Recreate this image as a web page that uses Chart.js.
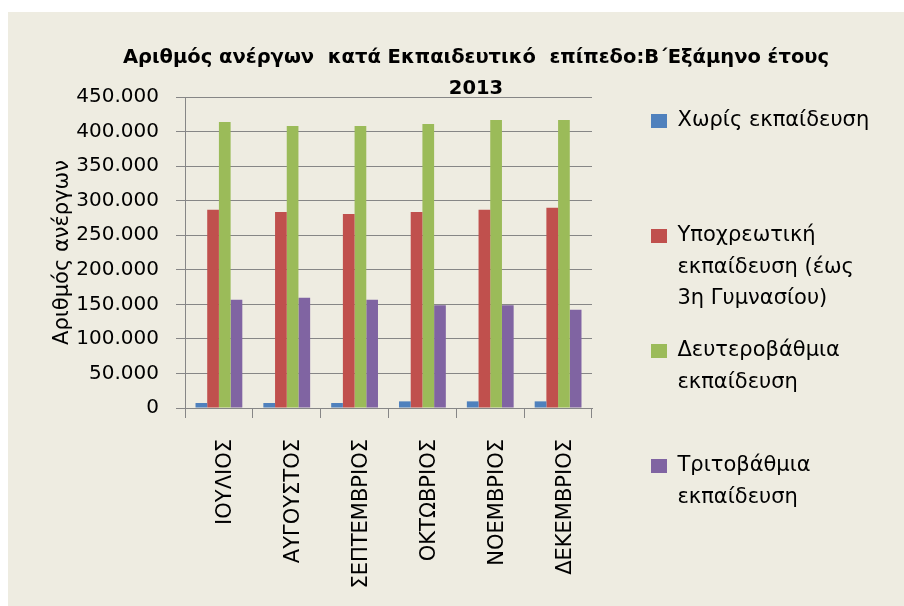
<!DOCTYPE html>
<html><head><meta charset="utf-8">
<script src="https://cdn.jsdelivr.net/npm/chart.js@4.4.1/dist/chart.umd.min.js"></script>
<style>
html,body{margin:0;padding:0;background:#fff;width:904px;height:606px;overflow:hidden}
#c{position:absolute;left:8px;top:12px;background:#EEECE1}
</style></head><body>
<canvas id="c" width="896" height="594"></canvas>
<script>
// ---- data ----
const categories = ['ΙΟΥΛΙΟΣ', 'ΑΥΓΟΥΣΤΟΣ', 'ΣΕΠΤΕΜΒΡΙΟΣ', 'ΟΚΤΩΒΡΙΟΣ', 'ΝΟΕΜΒΡΙΟΣ', 'ΔΕΚΕΜΒΡΙΟΣ'];
const seriesNames = ['Χωρίς εκπαίδευση', 'Υποχρεωτική εκπαίδευση (έως 3η Γυμνασίου)', 'Δευτεροβάθμια εκπαίδευση', 'Τριτοβάθμια εκπαίδευση'];
const legendLines = [
  ['Χωρίς εκπαίδευση', '', ''],
  ['Υποχρεωτική', 'εκπαίδευση (έως', '3η Γυμνασίου)'],
  ['Δευτεροβάθμια', 'εκπαίδευση', ''],
  ['Τριτοβάθμια', 'εκπαίδευση', '']
];
const noEducation = [7200, 7200, 7200, 9600, 9600, 9600];
const compulsory  = [287000, 283600, 280700, 283600, 287000, 289900];
const secondary   = [413800, 408000, 408000, 410900, 416700, 416700];
const tertiary    = [156800, 159600, 156800, 148600, 148600, 142300];
const yMin = 0, yMax = 450000, yStep = 50000;
const titleLines = ['Αριθμός ανέργων  κατά Εκπαιδευτικό  επίπεδο:Β΄Εξάμηνο έτους', '2013'];
const yAxisTitle = 'Αριθμός ανέργων';
const seriesColors = ['#4F81BD', '#C0504D', '#9BBB59', '#8064A2'];

// ---- layout helpers ----
const CW = 896;
const gridColor = '#868686';
const legendPad = 20.5, boxW = 16, boxH = 14, legendFontSize = 21;
const mctx = document.createElement('canvas').getContext('2d');
mctx.font = legendFontSize + 'px DejaVu Sans';
let maxLine = 0;
legendLines.forEach(lines => {
  const s = lines.reduce((a, b) => a.length > b.length ? a : b);
  maxLine = Math.max(maxLine, mctx.measureText(s).width);
});
const legendW = legendPad + boxW + legendFontSize / 2 + maxLine + 10;
const legendLeft = 622.5;
const padR = Math.max(0, CW - legendLeft - legendW);
const padL = 40 + padR;
const plotLeft = 177, plotRight = 584;

function fmt(v) { return String(v).replace(/\B(?=(\d{3})+(?!\d))/g, '.'); }

Chart.defaults.font.family = 'DejaVu Sans';
Chart.defaults.color = '#000';

new Chart(document.getElementById('c'), {
  type: 'bar',
  data: {
    labels: categories,
    datasets: [
      { label: seriesNames[0], data: noEducation, backgroundColor: seriesColors[0] },
      { label: seriesNames[1], data: compulsory, backgroundColor: seriesColors[1] },
      { label: seriesNames[2], data: secondary, backgroundColor: seriesColors[2] },
      { label: seriesNames[3], data: tertiary, backgroundColor: seriesColors[3] }
    ]
  },
  options: {
    responsive: false,
    animation: false,
    devicePixelRatio: 1,
    layout: { padding: { left: padL, right: padR, top: 0, bottom: 0 } },
    datasets: { bar: { categoryPercentage: 0.69, barPercentage: 1 } },
    scales: {
      x: {
        grid: { display: true, drawOnChartArea: false, drawTicks: true, tickLength: 10, color: gridColor, offset: true },
        border: { display: true, color: gridColor, width: 1 },
        ticks: { color: '#000', font: { size: 21 }, minRotation: 90, maxRotation: 90, autoSkip: false, padding: 21, labelOffset: 7 },
        afterFit: s => { s.height = 198; }
      },
      y: {
        min: yMin, max: yMax,
        ticks: { stepSize: yStep, color: '#000', font: { size: 20 }, padding: 17, callback: v => fmt(v) },
        grid: { color: gridColor, tickLength: 9 },
        border: { display: true, color: gridColor, width: 1 },
        title: { display: true, text: yAxisTitle, color: '#000', font: { size: 21, lineHeight: '24px' }, padding: { top: 42.5 - padL, bottom: 0 } },
        afterFit: s => { s.width = plotLeft - padL; }
      },
      yR: {
        position: 'right', display: true,
        grid: { display: false }, border: { display: false }, ticks: { display: false },
        afterFit: s => { s.width = legendLeft - plotRight; }
      }
    },
    plugins: {
      title: {
        display: true, text: titleLines, color: '#000',
        font: { family: 'DejaVu Sans', size: 19.5, weight: 'bold', lineHeight: '31px' },
        padding: { top: 30, bottom: -7 }
      },
      legend: {
        position: 'right', align: 'start', maxWidth: 400,
        title: { display: true, text: '', font: { size: 10, lineHeight: '10px' }, padding: { top: 68, bottom: 0 } },
        labels: {
          boxWidth: boxW, boxHeight: boxH, padding: legendPad, color: '#000',
          font: { size: legendFontSize, lineHeight: '31.5px' },
          generateLabels(chart) {
            const items = Chart.defaults.plugins.legend.labels.generateLabels(chart);
            items.forEach((it, i) => { it.text = legendLines[i]; it.lineWidth = 0; });
            return items;
          }
        }
      },
      tooltip: { enabled: false }
    }
  }
});
</script></body></html>
